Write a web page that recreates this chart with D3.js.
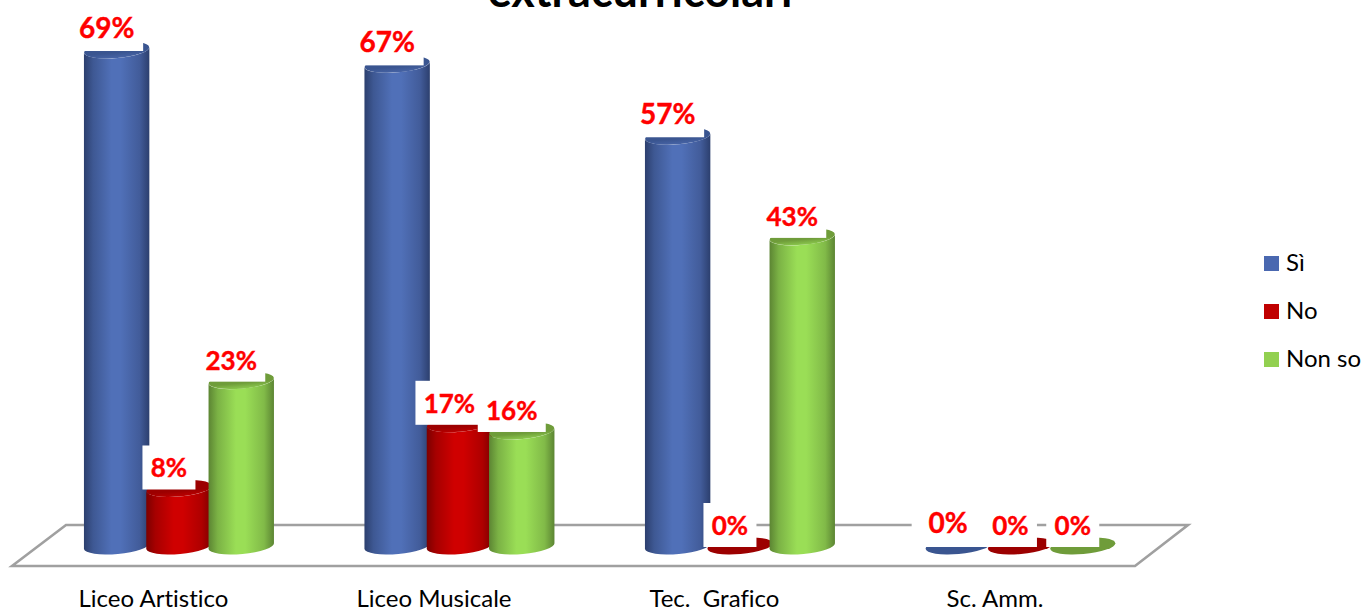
<!DOCTYPE html>
<html><head><meta charset="utf-8">
<script src="https://cdn.jsdelivr.net/npm/d3@7/dist/d3.min.js"></script>
<style>html,body{margin:0;padding:0;background:#fff}svg{display:block}text{font-family:Lato,"Open Sans",sans-serif;font-variant-ligatures:none}</style>
</head><body><div id="c"></div>
<script>
const titleText = "extracurricolari";
const categories = ["Liceo Artistico", "Liceo Musicale", "Tec.  Grafico", "Sc. Amm."];
const seriesNames = ["Sì", "No", "Non so"];
const si = [69, 67, 57, 0];
const no = [8, 17, 0, 0];
const nonSo = [23, 16, 43, 0];
const seriesValues = [si, no, nonSo];
const W = 1363, H = 610;
const styles = [
  {edge:"#2c3f6e", mid:"#5070b8", top:"#3a5590", legend:"#4a68b0"},
  {edge:"#7c0000", mid:"#cf0000", top:"#9c0000", legend:"#c00000"},
  {edge:"#5c8533", mid:"#9ade56", top:"#6f9c3a", legend:"#92d050"}
];
const svg = d3.select("#c").append("svg").attr("width",W).attr("height",H);
const defs = svg.append("defs");
styles.forEach((s,i)=>{
  const g = defs.append("linearGradient").attr("id","g"+i).attr("x1",0).attr("x2",1).attr("y1",0).attr("y2",0);
  const mix = d3.interpolateRgb(s.edge,s.mid);
  [[0,s.edge],[.14,mix(.5)],[.42,s.mid],[.56,s.mid],[.85,mix(.6)],[1,s.edge]]
    .forEach(([o,c])=>g.append("stop").attr("offset",o).attr("stop-color",c));
  const t = defs.append("linearGradient").attr("id","t"+i).attr("x1",0).attr("x2",0).attr("y1",0).attr("y2",1);
  [[0,s.top],[.65,s.top],[1,mix(.75)]].forEach(([o,c])=>t.append("stop").attr("offset",o).attr("stop-color",c));
});
const x = d3.scaleBand().domain(categories).range([38.7,1160.7]);
const off = d3.scalePoint().domain(seriesNames).range([-62.3,62.3]);
const y = d3.scaleLinear().domain([0,69]).range([546,50]);
const rx = 32.7, ry = 8, rot = -5, tilt = 3;

svg.append("path").attr("d","M12,566 L66,525 L1188,525 L1135,566 Z")
  .attr("fill","#fff").attr("stroke","#a0a0a0").attr("stroke-width",2.6);

svg.append("text").attr("x",640).attr("y",7).attr("text-anchor","middle")
  .attr("font-size",45).attr("font-weight",700).attr("fill","#000").text(titleText);

const marks = [];
seriesNames.forEach((s,si_)=>categories.forEach((c,ci)=>{
  marks.push({s,si:si_,c,v:seriesValues[si_][ci],cx:x(c)+x.bandwidth()/2+off(s)});
}));
const order = categories.flatMap(c=>seriesNames.map(s=>marks.find(m=>m.c===c&&m.s===s)));

const bars = svg.append("g").selectAll("g").data(order).join("g");
bars.filter(d=>d.v>0).append("path")
  .attr("d",d=>{
    const t=y(d.v), b=y(0), l=d.cx-rx, r=d.cx+rx;
    return `M${l},${t+tilt} L${l},${b+tilt} A${rx},${ry} ${rot} 0 0 ${r},${b-tilt} L${r},${t-tilt} A${rx},${ry} ${rot} 0 1 ${l},${t+tilt} Z`;
  })
  .attr("fill",d=>`url(#g${d.si})`);
bars.append("ellipse")
  .attr("cx",d=>d.cx).attr("cy",d=>y(d.v)).attr("rx",rx).attr("ry",ry)
  .attr("transform",d=>`rotate(${rot} ${d.cx} ${y(d.v)})`)
  .attr("fill",d=>d.v>0?`url(#t${d.si})`:styles[d.si].top);

const labels = svg.append("g").selectAll("g").data(order).join("g");
const baseOf = d => y(d.v)-(d.si===0?(d.v?12:13):11);
labels.each(function(d){
  const tx = d.cx-10, big = d.si===0;
  const bw = big?73:(d.v<10?53:68), bottom = y(d.v)+1;
  d3.select(this).append("rect").attr("x",tx-bw/2).attr("y",bottom-44).attr("width",bw).attr("height",44).attr("fill","#fff");
});
labels.each(function(d){
  d3.select(this).append("text").attr("x",d.cx-10).attr("y",baseOf(d)).attr("text-anchor","middle")
    .attr("font-size",d.si===0?28:26).attr("font-weight",700).attr("fill","#ff0000")
    .attr("stroke","#ff0000").attr("stroke-width",.4).text(d.v+"%");
});

svg.append("g").selectAll("text").data(categories).join("text")
  .attr("x",c=>x(c)+x.bandwidth()/2-25.5).attr("y",607).attr("text-anchor","middle")
  .attr("font-size",24).attr("fill","#000").style("white-space","pre").text(c=>c);

const ly = d3.scalePoint().domain(seriesNames).range([256,352]);
const lg = svg.append("g").selectAll("g").data(seriesNames).join("g");
lg.append("rect").attr("x",1264).attr("y",d=>ly(d)).attr("width",15).attr("height",15)
  .attr("fill",(d,i)=>styles[i].legend);
lg.append("text").attr("x",1286).attr("y",d=>ly(d)+15).attr("font-size",24).attr("fill","#000").text(d=>d);
</script></body></html>
